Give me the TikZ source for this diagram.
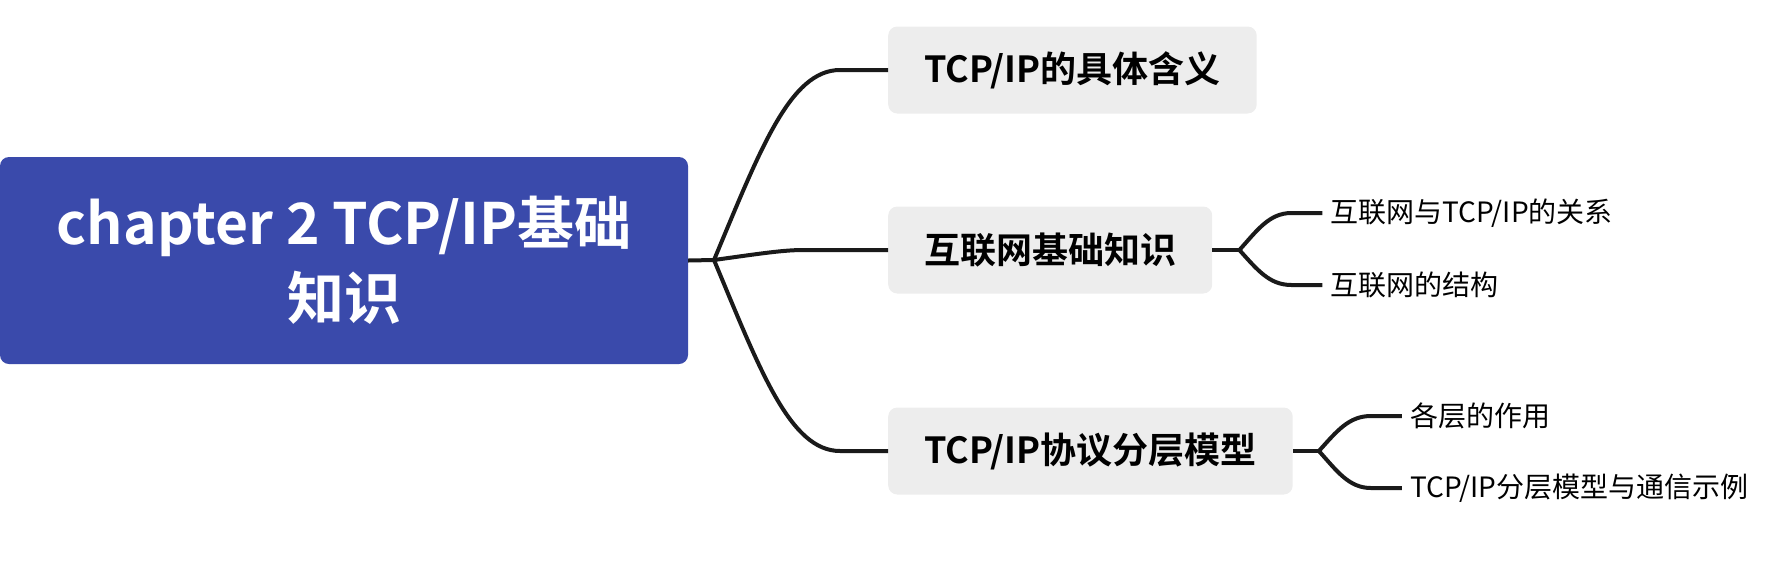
\documentclass[tikz,border=0pt]{standalone}
\usepackage{fontspec}
\setmainfont{Noto Sans CJK SC}[BoldFont={Noto Sans CJK SC Bold}]
\definecolor{rootblue}{RGB}{58,74,171}
\definecolor{topicgrey}{RGB}{237,237,237}
\definecolor{linkblack}{RGB}{26,26,26}
\begin{document}
\begin{tikzpicture}[x=1pt,y=-1pt,
  root/.style={fill=rootblue,rounded corners=9pt,text=white,align=center,
    font=\fontsize{57}{75}\selectfont\bfseries,
    minimum width=688pt,minimum height=207pt,inner sep=0pt},
  topic/.style={fill=topicgrey,rounded corners=9pt,anchor=west,
    font=\fontsize{36}{42}\selectfont\bfseries,
    minimum height=87pt,inner xsep=36pt},
  leaf/.style={anchor=west,inner xsep=8pt,inner ysep=0pt,
    font=\fontsize{28}{32}\selectfont},
  link/.style={draw=linkblack,line width=4pt}]
\useasboundingbox (0,0) rectangle (1776,571);
% central topic
\node[root] (chap) at (344,260.5) {chapter 2 TCP/IP基础\\知识};
\coordinate (fork) at (714,260);
% main topics
\node[topic] (mean) at (888,70) {TCP/IP的具体含义};
\node[topic] (inet) at (888,250) {互联网基础知识};
\node[topic] (layer) at (888,451) {TCP/IP协议分层模型};
\coordinate (inetfork) at ([xshift=27pt]inet.east);
\coordinate (layerfork) at ([xshift=26pt]layer.east);
% subtopics
\node[leaf] (rel) at ([xshift=83pt,yshift=37pt]inetfork) {互联网与TCP/IP的关系};
\node[leaf] (struct) at ([xshift=83pt,yshift=-35pt]inetfork) {互联网的结构};
\node[leaf] (role) at ([xshift=83pt,yshift=35pt]layerfork) {各层的作用};
\node[leaf] (demo) at ([xshift=83pt,yshift=-37pt]layerfork) {TCP/IP分层模型与通信示例};
% connectors
\draw[link] (chap.east) -- (fork);
\draw[link] (fork) .. controls +(46,-110) and +(-50,0) .. ([xshift=-48pt]mean.west) -- (mean.west);
\draw[link] (fork) .. controls +(50,-7) and +(-20,0) .. ([xshift=-84pt]inet.west) -- (inet.west);
\draw[link] (fork) .. controls +(46,110) and +(-50,0) .. ([xshift=-48pt]layer.west) -- (layer.west);
\draw[link] (inet.east) -- (inetfork);
\draw[link] (inetfork) .. controls +(18,-20) and +(-22,0) .. ([xshift=-31pt]rel.west) -- (rel.west);
\draw[link] (inetfork) .. controls +(18,20) and +(-22,0) .. ([xshift=-31pt]struct.west) -- (struct.west);
\draw[link] (layer.east) -- (layerfork);
\draw[link] (layerfork) .. controls +(18,-20) and +(-22,0) .. ([xshift=-31pt]role.west) -- (role.west);
\draw[link] (layerfork) .. controls +(18,20) and +(-22,0) .. ([xshift=-31pt]demo.west) -- (demo.west);
\end{tikzpicture}
\end{document}
